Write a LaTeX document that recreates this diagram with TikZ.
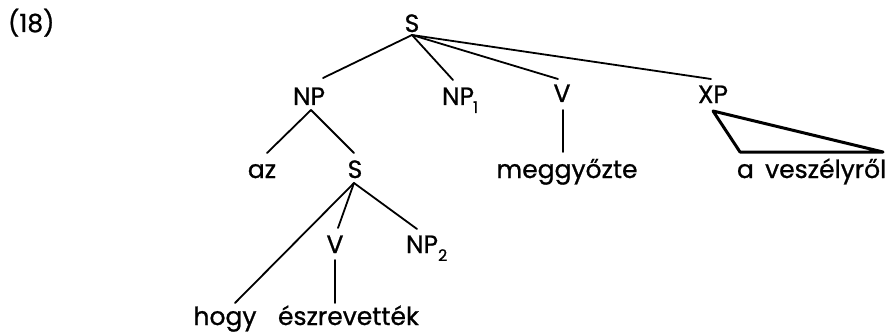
\documentclass[tikz,border=0pt]{standalone}
\usepackage{fontspec}
\setmainfont{Poppins}[FakeBold=1]
\newfontfamily\treefont{Poppins}[FakeBold=0.9]
\begin{document}
\begin{tikzpicture}[x=1pt,y=-1pt,
  lab/.style={inner sep=0pt,outer sep=0pt,font=\treefont\fontsize{25}{28}\selectfont,anchor=base},
  labw/.style={lab,anchor=base west},
  edge/.style={line width=1.8pt,line cap=round},
  roof/.style={line width=3pt,line join=round}]
\useasboundingbox[fill=white] (0,0) rectangle (888,334);
\newcommand{\subsc}[1]{\raisebox{-0.32em}{\fontsize{16}{18}\selectfont #1}}
% labels
\node[labw] (num) at (8,32) {(18)};
\node[lab] (S0) at (412,32) {S};
\node[lab] (NP) at (309,105) {NP};
\node[labw] (NP1) at (442,105) {NP\kern-0.04em\subsc{1}};
\node[lab] (V1) at (562,102) {V};
\node[lab] (XP) at (713,103) {XP};
\node[lab] (az) at (262,178) {az};
\node[lab] (S1) at (355,178) {S};
\node[lab] (megg) at (567,178) {meggyőzte};
\node[labw] (aves) at (737,178) {a\hspace{0.45em}veszélyről};
\node[lab] (V2) at (335,253) {V};
\node[labw] (NP2) at (406,253) {NP\subsc{2}};
\node[lab] (hogy) at (225,325) {hogy};
\node[labw] (eszr) at (278,325) {észrevették};
% connector ends
\coordinate (S0b) at (412,35);
\coordinate (NPt) at (323,78);
\coordinate (NP1t) at (453,80);
\coordinate (V1t) at (558,79);
\coordinate (XPt) at (711,79);
\coordinate (NPb) at (311,110);
\coordinate (azt) at (267,153);
\coordinate (S1t) at (354,153);
\coordinate (V1b) at (563,110);
\coordinate (meggt) at (563,152);
\coordinate (XPb) at (713,111);
\coordinate (avesl) at (740,152);
\coordinate (avesr) at (883,152);
\coordinate (S1b) at (354,183);
\coordinate (hogyt) at (235,303);
\coordinate (V2t) at (338,228);
\coordinate (NP2t) at (417,229);
\coordinate (V2b) at (335,260);
\coordinate (eszrt) at (335,303);
% connectors
\draw[edge] (S0b) -- (NPt);
\draw[edge] (S0b) -- (NP1t);
\draw[edge] (S0b) -- (V1t);
\draw[edge] (S0b) -- (XPt);
\draw[edge] (NPb) -- (azt);
\draw[edge] (NPb) -- (S1t);
\draw[edge] (V1b) -- (meggt);
\draw[roof] (XPb) -- (avesl) -- (avesr) -- cycle;
\draw[edge] (S1b) -- (hogyt);
\draw[edge] (S1b) -- (V2t);
\draw[edge] (S1b) -- (NP2t);
\draw[edge] (V2b) -- (eszrt);
\end{tikzpicture}
\end{document}
